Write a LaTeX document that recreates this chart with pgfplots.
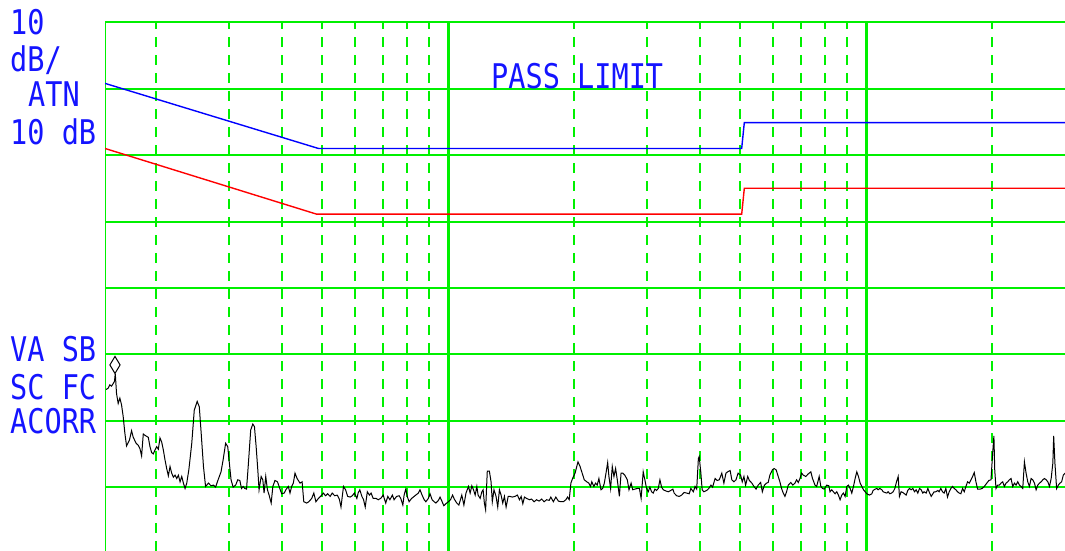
\documentclass[border=0pt]{standalone}
\usepackage{pgfplots}
\pgfplotsset{compat=1.18}
\usepackage{fontspec}
\newfontfamily\hp[FakeStretch=0.84]{DejaVu Sans Mono}
\definecolor{gridgreen}{RGB}{0,240,0}
\definecolor{hpblue}{RGB}{20,20,255}
\begin{document}
\begin{tikzpicture}
\begin{axis}[
  at={(0pt,0pt)}, anchor=south west,
  scale only axis, width=960pt, height=528.7pt,
  xmin=0.17943, xmax=2.4761, ymin=-79.62, ymax=0,
  axis line style={draw=none},
  xtick={1,2},
  minor xtick={0.30103,0.47712,0.60206,0.69897,0.77815,0.84510,0.90309,0.95424,1.30103,1.47712,1.60206,1.69897,1.77815,1.84510,1.90309,1.95424,2.30103},
  ytick={-70,-60,-50,-40,-30,-20,-10,0},
  xticklabels={}, yticklabels={},
  major tick length=0pt, minor tick length=0pt,
  grid=both,
  grid style={gridgreen},
  major grid style={gridgreen, line width=2pt},
  minor grid style={gridgreen, line width=2pt, dash pattern=on 10pt off 8pt},
]
\draw[gridgreen, line width=2pt] (rel axis cs:0,0) -- (rel axis cs:0,1);
\draw[gridgreen, line width=3pt] (axis cs:1,-79.62) -- (axis cs:1,0);
\draw[gridgreen, line width=3pt] (axis cs:2,-79.62) -- (axis cs:2,0);
\addplot[blue, line width=1.4pt] coordinates {(0.17943,-9.2) (0.690,-19.0) (1.7026,-19.0) (1.7089,-15.1) (2.4761,-15.1)};
\addplot[red, line width=1.4pt] coordinates {(0.17943,-19.0) (0.686,-28.9) (1.7026,-28.9) (1.7089,-25.0) (2.4761,-25.0)};
\addplot[black, line width=1pt] coordinates {
(0.182,-55.3) (0.187,-55.1) (0.191,-54.6) (0.195,-54.8) (0.199,-54.4) (0.202,-54.1) (0.204,-52.9) (0.207,-55.9) (0.211,-57.4) (0.215,-56.6) (0.219,-57.6) (0.223,-59.4) (0.227,-61.9) (0.231,-63.8) (0.238,-62.9) (0.243,-61.5) (0.247,-62.5) (0.254,-63.4) (0.259,-63.7) (0.263,-64.2) (0.267,-65.3) (0.271,-62.0) (0.275,-62.2) (0.283,-62.5) (0.287,-63.9) (0.291,-64.8) (0.295,-65.0) (0.299,-64.4) (0.303,-63.9) (0.307,-64.3) (0.311,-62.6) (0.315,-63.2) (0.319,-64.4) (0.323,-65.9) (0.327,-67.2) (0.331,-68.3) (0.335,-66.9) (0.339,-67.9) (0.343,-68.5) (0.347,-68.2) (0.351,-68.7) (0.355,-68.2) (0.359,-69.2) (0.363,-68.4) (0.367,-69.4) (0.371,-70.2) (0.375,-69.4) (0.380,-67.4) (0.387,-63.4) (0.393,-58.4) (0.400,-57.1) (0.405,-57.9) (0.409,-61.4) (0.415,-66.9) (0.420,-69.9) (0.427,-69.4) (0.433,-69.8) (0.439,-69.7) (0.444,-70.0) (0.450,-68.9) (0.457,-67.7) (0.462,-65.9) (0.468,-63.4) (0.473,-63.9) (0.477,-66.4) (0.481,-68.9) (0.486,-70.0) (0.492,-69.7) (0.497,-68.9) (0.502,-69.0) (0.506,-70.2) (0.510,-69.9) (0.514,-70.2) (0.518,-70.3) (0.522,-66.9) (0.528,-61.4) (0.533,-60.5) (0.537,-60.9) (0.541,-63.9) (0.545,-67.4) (0.548,-70.4) (0.553,-68.4) (0.557,-68.9) (0.560,-70.9) (0.564,-68.4) (0.568,-70.4) (0.572,-71.2) (0.577,-72.4) (0.581,-69.9) (0.586,-69.0) (0.592,-69.2) (0.596,-69.9) (0.602,-71.0) (0.608,-70.9) (0.612,-70.4) (0.618,-69.9) (0.622,-70.9) (0.626,-69.9) (0.630,-69.4) (0.634,-67.9) (0.639,-68.7) (0.646,-69.4) (0.651,-69.2) (0.655,-72.2) (0.662,-72.4) (0.667,-72.2) (0.674,-71.7) (0.679,-70.9) (0.684,-72.2) (0.690,-71.7) (0.695,-71.4) (0.702,-70.9) (0.707,-71.3) (0.712,-71.0) (0.718,-71.4) (0.723,-70.9) (0.729,-71.3) (0.735,-71.2) (0.740,-71.8) (0.744,-73.0) (0.750,-69.9) (0.755,-70.4) (0.760,-71.4) (0.766,-71.5) (0.771,-71.3) (0.776,-70.9) (0.782,-71.7) (0.785,-70.9) (0.789,-70.4) (0.794,-71.4) (0.798,-71.9) (0.802,-73.0) (0.807,-70.7) (0.812,-71.2) (0.816,-70.9) (0.821,-71.7) (0.828,-71.7) (0.833,-71.9) (0.839,-71.7) (0.845,-71.2) (0.851,-72.4) (0.856,-71.4) (0.861,-71.9) (0.867,-71.2) (0.871,-71.9) (0.877,-71.4) (0.883,-71.3) (0.887,-71.7) (0.892,-72.7) (0.895,-71.2) (0.899,-70.3) (0.903,-71.5) (0.907,-72.2) (0.913,-71.7) (0.919,-71.4) (0.923,-71.2) (0.929,-70.9) (0.933,-70.4) (0.938,-71.2) (0.943,-71.9) (0.947,-72.2) (0.953,-71.7) (0.957,-71.0) (0.962,-71.9) (0.967,-72.2) (0.971,-72.4) (0.977,-72.0) (0.981,-71.5) (0.986,-72.2) (0.990,-72.8) (0.995,-72.5) (1.001,-72.2) (1.006,-71.9) (1.011,-71.2) (1.015,-71.8) (1.021,-72.4) (1.026,-72.7) (1.033,-71.2) (1.038,-72.7) (1.043,-70.9) (1.049,-69.9) (1.053,-70.9) (1.057,-69.8) (1.061,-70.4) (1.065,-71.2) (1.069,-69.9) (1.072,-71.2) (1.077,-71.7) (1.081,-70.7) (1.084,-70.4) (1.087,-72.4) (1.090,-73.4) (1.094,-67.6) (1.099,-67.6) (1.103,-69.2) (1.106,-72.2) (1.110,-70.4) (1.115,-71.4) (1.119,-73.0) (1.123,-70.4) (1.127,-71.2) (1.131,-72.4) (1.135,-71.4) (1.139,-73.0) (1.144,-71.4) (1.148,-71.4) (1.154,-71.5) (1.160,-71.4) (1.166,-71.2) (1.171,-71.9) (1.175,-71.4) (1.179,-72.5) (1.183,-71.5) (1.188,-71.7) (1.195,-71.9) (1.200,-71.8) (1.206,-72.2) (1.212,-71.9) (1.218,-72.1) (1.224,-71.8) (1.230,-72.2) (1.236,-71.9) (1.242,-72.0) (1.246,-71.5) (1.252,-72.2) (1.258,-71.5) (1.264,-72.1) (1.270,-72.2) (1.276,-72.2) (1.282,-71.9) (1.286,-71.5) (1.290,-71.9) (1.294,-69.4) (1.298,-68.7) (1.304,-67.9) (1.308,-66.9) (1.311,-66.2) (1.316,-66.9) (1.321,-67.9) (1.326,-68.9) (1.332,-69.2) (1.337,-69.4) (1.341,-69.9) (1.344,-69.2) (1.349,-69.9) (1.353,-69.4) (1.357,-69.7) (1.361,-68.7) (1.366,-70.4) (1.370,-70.2) (1.374,-69.4) (1.378,-67.9) (1.382,-66.3) (1.385,-68.4) (1.389,-70.2) (1.393,-66.9) (1.397,-68.4) (1.401,-67.2) (1.405,-68.9) (1.410,-71.4) (1.414,-67.9) (1.418,-67.9) (1.423,-68.2) (1.429,-68.9) (1.433,-70.4) (1.438,-69.4) (1.442,-70.4) (1.447,-70.3) (1.453,-70.2) (1.458,-70.2) (1.462,-71.7) (1.467,-67.7) (1.471,-68.9) (1.475,-70.2) (1.479,-70.7) (1.483,-70.0) (1.487,-70.7) (1.491,-70.9) (1.495,-70.3) (1.499,-70.5) (1.503,-70.2) (1.507,-68.9) (1.511,-70.0) (1.515,-70.4) (1.522,-70.6) (1.527,-70.7) (1.533,-70.5) (1.538,-70.3) (1.541,-70.9) (1.547,-71.3) (1.553,-71.4) (1.559,-71.2) (1.565,-70.8) (1.571,-70.9) (1.577,-71.0) (1.581,-70.2) (1.587,-70.7) (1.591,-69.9) (1.595,-70.3) (1.599,-65.7) (1.601,-65.4) (1.605,-67.9) (1.608,-70.4) (1.612,-70.7) (1.619,-70.5) (1.624,-70.2) (1.629,-69.7) (1.633,-70.0) (1.639,-68.7) (1.644,-69.0) (1.649,-68.9) (1.655,-67.9) (1.660,-69.4) (1.665,-67.9) (1.669,-67.7) (1.675,-67.5) (1.679,-68.9) (1.684,-69.2) (1.689,-68.9) (1.694,-67.9) (1.700,-68.2) (1.704,-69.2) (1.708,-68.4) (1.712,-69.7) (1.717,-68.4) (1.721,-69.0) (1.727,-69.4) (1.732,-69.9) (1.737,-70.3) (1.742,-69.7) (1.748,-69.3) (1.752,-70.7) (1.757,-69.7) (1.762,-69.4) (1.766,-69.3) (1.770,-68.2) (1.776,-67.4) (1.780,-67.2) (1.785,-67.4) (1.789,-68.2) (1.794,-69.2) (1.798,-70.2) (1.802,-70.9) (1.806,-71.4) (1.810,-70.7) (1.814,-69.7) (1.820,-69.3) (1.825,-69.7) (1.830,-69.4) (1.834,-68.9) (1.838,-69.3) (1.842,-68.7) (1.846,-67.9) (1.850,-68.2) (1.856,-68.4) (1.862,-68.0) (1.868,-67.7) (1.872,-68.7) (1.878,-69.7) (1.882,-69.9) (1.888,-68.4) (1.892,-69.9) (1.896,-70.2) (1.900,-70.3) (1.906,-69.7) (1.911,-69.8) (1.914,-70.7) (1.918,-70.4) (1.922,-70.7) (1.926,-71.0) (1.930,-70.7) (1.934,-71.2) (1.938,-71.9) (1.942,-71.2) (1.946,-70.9) (1.950,-71.4) (1.954,-69.9) (1.958,-69.7) (1.962,-70.2) (1.966,-70.9) (1.970,-69.9) (1.974,-68.7) (1.978,-67.7) (1.982,-68.4) (1.986,-69.4) (1.990,-69.9) (1.994,-70.4) (1.998,-70.7) (2.002,-71.0) (2.008,-71.2) (2.014,-71.0) (2.017,-70.5) (2.022,-70.3) (2.026,-70.2) (2.029,-70.4) (2.033,-70.2) (2.038,-70.4) (2.041,-70.7) (2.045,-70.8) (2.050,-70.9) (2.053,-70.7) (2.057,-71.0) (2.061,-70.9) (2.065,-70.7) (2.069,-70.2) (2.073,-69.2) (2.077,-68.4) (2.080,-71.4) (2.084,-70.7) (2.088,-70.8) (2.092,-71.0) (2.096,-71.2) (2.100,-70.5) (2.104,-70.2) (2.108,-70.4) (2.112,-70.2) (2.116,-70.7) (2.120,-70.4) (2.124,-70.9) (2.128,-70.2) (2.132,-70.4) (2.136,-70.9) (2.139,-70.7) (2.144,-70.9) (2.148,-70.2) (2.151,-70.7) (2.156,-71.4) (2.160,-71.0) (2.163,-70.7) (2.167,-70.7) (2.172,-70.5) (2.175,-70.7) (2.179,-70.2) (2.183,-70.7) (2.187,-70.9) (2.191,-70.2) (2.195,-71.5) (2.199,-70.7) (2.203,-70.2) (2.207,-69.9) (2.211,-70.2) (2.215,-70.4) (2.219,-70.7) (2.223,-70.9) (2.227,-71.0) (2.231,-70.2) (2.235,-70.7) (2.239,-69.9) (2.243,-69.2) (2.247,-69.4) (2.251,-68.9) (2.255,-68.4) (2.259,-67.8) (2.263,-69.2) (2.267,-70.3) (2.273,-70.3) (2.278,-70.2) (2.283,-69.9) (2.289,-69.4) (2.294,-69.0) (2.299,-68.9) (2.303,-64.9) (2.306,-62.3) (2.308,-67.4) (2.311,-70.2) (2.315,-69.7) (2.319,-69.7) (2.323,-69.4) (2.327,-69.2) (2.331,-69.9) (2.335,-69.4) (2.339,-69.2) (2.343,-68.9) (2.347,-68.7) (2.351,-69.9) (2.355,-69.4) (2.359,-69.7) (2.363,-69.2) (2.367,-69.7) (2.371,-69.9) (2.375,-70.2) (2.379,-66.2) (2.383,-67.9) (2.387,-69.2) (2.391,-69.9) (2.395,-68.7) (2.399,-68.9) (2.403,-69.4) (2.407,-70.4) (2.411,-69.7) (2.415,-69.4) (2.419,-69.2) (2.423,-68.9) (2.427,-68.7) (2.431,-68.9) (2.435,-69.2) (2.439,-69.9) (2.443,-68.7) (2.447,-66.4) (2.449,-62.3) (2.452,-66.4) (2.456,-70.2) (2.460,-69.7) (2.464,-69.4) (2.468,-69.2) (2.472,-68.2) (2.476,-67.9)
};
\addplot[black, only marks, mark=diamond, mark size=8.5pt, mark options={xscale=0.8, line width=1pt, fill=none}] coordinates {(0.2033,-51.6)};
\end{axis}
\tikzset{hptext/.style={anchor=base west, inner sep=0pt, text=hpblue, font=\hp\fontsize{34}{34}\selectfont}}
\node[hptext] at (-95pt,516pt) {10};
\node[hptext] at (-95pt,479pt) {dB/};
\node[hptext] at (-77pt,444pt) {ATN};
\node[hptext] at (-95pt,406pt) {10 dB};
\node[hptext] at (-95pt,189pt) {VA SB};
\node[hptext] at (-95pt,151.5pt) {SC FC};
\node[hptext] at (-95pt,117.7pt) {ACORR};
\node[hptext] at (386pt,462.7pt) {PASS LIMIT};
\pgfresetboundingbox
\path[use as bounding box] (-105pt,0pt) rectangle (960pt,551pt);
\end{tikzpicture}
\end{document}
